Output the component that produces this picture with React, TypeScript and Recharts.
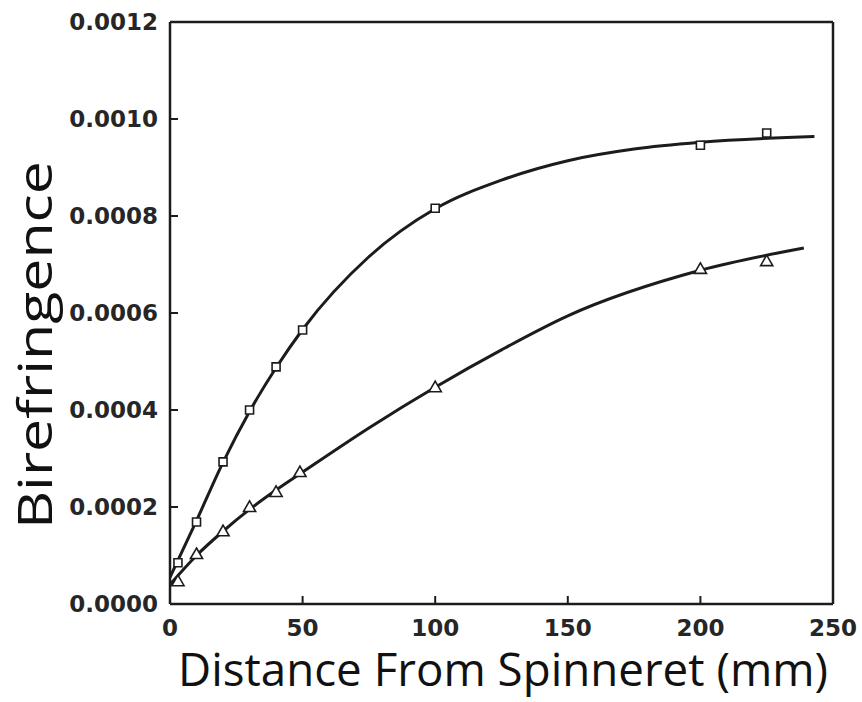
import React from 'react';
import { ComposedChart, Line, Scatter, XAxis, YAxis, ReferenceLine } from 'recharts';

// Axis ticks
const distanceTicks = [0, 50, 100, 150, 200, 250];
const birefringenceTicks = [0, 0.0002, 0.0004, 0.0006, 0.0008, 0.001, 0.0012];

// Measured points, upper series (squares)
const upperDistance = [3, 10, 20, 30, 40, 50, 100, 200, 225];
const upperBirefringence = [0.000085, 0.000169, 0.000293, 0.0004, 0.000489, 0.000565, 0.000816, 0.000946, 0.000971];

// Measured points, lower series (triangles)
const lowerDistance = [3, 10, 20, 30, 40, 49, 100, 200, 225];
const lowerBirefringence = [0.000045, 0.000101, 0.000148, 0.000198, 0.000229, 0.00027, 0.000445, 0.000689, 0.000705];

// Fitted curves
const upperFitDistance = [0, 10, 20, 30, 40, 50, 75, 100, 125, 150, 175, 200, 243];
const upperFitValue = [0.000055, 0.000172, 0.000292, 0.000397, 0.000487, 0.000566, 0.000716, 0.000815, 0.000874, 0.000914, 0.000938, 0.000952, 0.000964];

const lowerFitDistance = [0, 10, 20, 30, 40, 50, 75, 100, 125, 150, 200, 239];
const lowerFitValue = [0.00004, 0.0001, 0.00015, 0.000195, 0.000235, 0.000272, 0.000363, 0.000447, 0.000524, 0.000594, 0.000688, 0.000734];

const zip = (xs: number[], ys: number[]) => xs.map((x, i) => ({ x, y: ys[i] }));

const upperPoints = zip(upperDistance, upperBirefringence);
const lowerPoints = zip(lowerDistance, lowerBirefringence);
const upperFit = zip(upperFitDistance, upperFitValue);
const lowerFit = zip(lowerFitDistance, lowerFitValue);

const INK = '#1c1c1c';
const tickFont = {
  fontFamily: '"DejaVu Sans", sans-serif',
  fontWeight: 700,
  fontSize: 23,
  fill: '#262626',
};
const titleFont = '"Open Sans", "Noto Sans", sans-serif';

const XTitle = () => (
  <text
    x={503}
    y={686}
    textAnchor="middle"
    fontFamily={titleFont}
    fontSize={46}
    fill="#111"
    textLength={650}
    lengthAdjust="spacingAndGlyphs"
  >
    Distance From Spinneret (mm)
  </text>
);

const YTitle = () => (
  <text
    x={52}
    y={345}
    transform="rotate(-90 52 345)"
    textAnchor="middle"
    fontFamily={titleFont}
    fontSize={48}
    fill="#111"
    textLength={368}
    lengthAdjust="spacingAndGlyphs"
  >
    Birefringence
  </text>
);

export default function App() {
  return (
    <div style={{ position: 'absolute', left: 0, top: 0, background: '#fff' }}>
      <ComposedChart
        width={862}
        height={702}
        margin={{ top: 22, right: 29, bottom: 0, left: 100 }}
      >
        <XAxis
          type="number"
          dataKey="x"
          domain={[0, 250]}
          ticks={distanceTicks}
          allowDataOverflow
          height={98}
          tickSize={-8}
          tickMargin={24}
          tick={tickFont}
          axisLine={{ stroke: INK, strokeWidth: 2.5 }}
          tickLine={{ stroke: INK, strokeWidth: 2 }}
          label={<XTitle />}
        />
        <YAxis
          type="number"
          dataKey="y"
          domain={[0, 0.0012]}
          ticks={birefringenceTicks}
          allowDataOverflow
          width={70}
          tickSize={-8}
          tickMargin={20}
          tick={tickFont}
          tickFormatter={(v: number) => v.toFixed(4)}
          axisLine={{ stroke: INK, strokeWidth: 2.5 }}
          tickLine={{ stroke: INK, strokeWidth: 2 }}
          label={<YTitle />}
        />
        <ReferenceLine y={0.0012} stroke={INK} strokeWidth={2.5} />
        <ReferenceLine x={250} stroke={INK} strokeWidth={2.5} />
        <Line
          data={upperFit}
          dataKey="y"
          type="monotone"
          stroke={INK}
          strokeWidth={3}
          dot={false}
          activeDot={false}
          isAnimationActive={false}
        />
        <Line
          data={lowerFit}
          dataKey="y"
          type="monotone"
          stroke={INK}
          strokeWidth={3}
          dot={false}
          activeDot={false}
          isAnimationActive={false}
        />
        <Scatter
          data={upperPoints}
          dataKey="y"
          shape="square"
          size={50}
          fill="#fff"
          stroke={INK}
          strokeWidth={1.6}
          isAnimationActive={false}
        />
        <Scatter
          data={lowerPoints}
          dataKey="y"
          shape="triangle"
          size={45}
          fill="#fff"
          stroke={INK}
          strokeWidth={1.6}
          isAnimationActive={false}
        />
      </ComposedChart>
    </div>
  );
}
